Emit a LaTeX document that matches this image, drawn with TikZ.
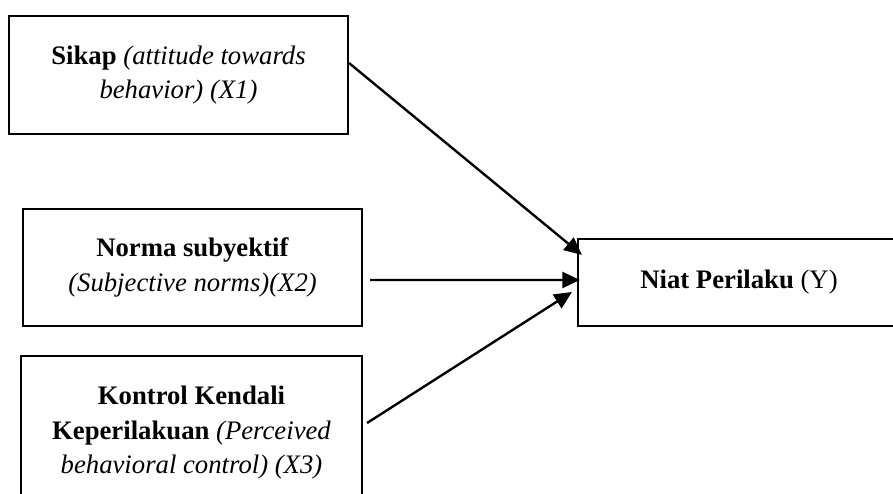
\documentclass[tikz,border=0pt]{standalone}
\usepackage{fontspec}
\setmainfont{Liberation Serif}
\usetikzlibrary{arrows.meta,positioning}
\tikzset{
  varbox/.style={draw, line width=1.5pt, inner sep=0pt, align=center,
    font=\fontsize{19}{24.5}\selectfont},
  arr/.style={-{Triangle[length=0.44cm, width=0.4cm]}, line width=1.7pt, color=black}
}

\begin{document}
\begin{tikzpicture}[x=1cm,y=1cm]
\useasboundingbox (0,0) rectangle (22.325,12.325);

% ---------------- Independent variables ----------------
\node[varbox, minimum width=8.475cm, minimum height=2.95cm] (x1) at (4.4625,10.45)
  {\textbf{Sikap} \textit{(attitude towards}\\\textit{behavior) (X1)}};
\node[varbox, minimum width=8.475cm, minimum height=2.925cm] (x2) at (4.8125,5.6375)
  {\textbf{Norma subyektif}\\\textit{(Subjective norms)(X2)}};
\node[varbox, minimum width=8.525cm, minimum height=3.85cm] (x3) at (4.7875,1.5)
  {\textbf{Kontrol Kendali}\\\textbf{Keperilakuan} \textit{(Perceived}\\\textit{behavioral control) (X3)}};

% ---------------- Dependent variable ----------------
\node[varbox, minimum width=8.05cm, minimum height=2.175cm] (y) at (18.475,5.2625)
  {\textbf{Niat Perilaku} (Y)};

% ---------------- Arrows ----------------
\draw[arr] (x1.4) -- ([xshift=0.125cm,yshift=0.69cm]y.west);
\draw[arr] ([xshift=0.175cm,yshift=-0.3125cm]x2.east) -- ([xshift=0.075cm,yshift=0.0625cm]y.west);
\draw[arr] ([xshift=0.1cm,yshift=0.25cm]x3.east) -- ([xshift=-0.125cm,yshift=-0.2375cm]y.west);

\end{tikzpicture}
\end{document}
